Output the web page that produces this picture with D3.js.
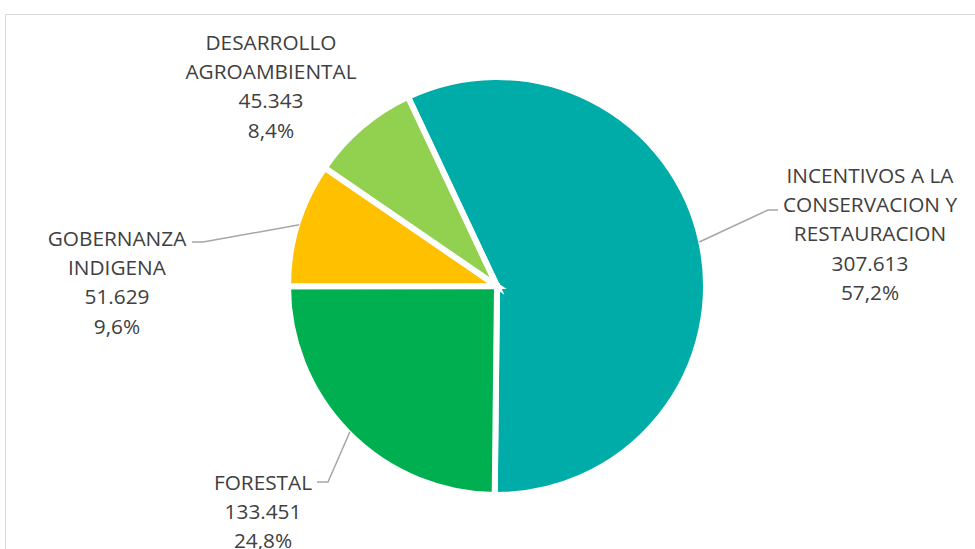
<!DOCTYPE html>
<html>
<head>
<meta charset="utf-8">
<script src="https://cdn.jsdelivr.net/npm/d3@7"></script>
<style>
  html, body { margin: 0; padding: 0; background: #fff; }
  svg { display: block; }
</style>
</head>
<body>
<svg id="chart" width="975" height="549"></svg>
<script>
// ---- data ----
const categories = [
  "INCENTIVOS A LA CONSERVACION Y RESTAURACION",
  "FORESTAL",
  "GOBERNANZA INDIGENA",
  "DESARROLLO AGROAMBIENTAL"
];
const values = [307613, 133451, 51629, 45343];
const labelLines = [
  ["INCENTIVOS A LA", "CONSERVACION Y", "RESTAURACION"],
  ["FORESTAL"],
  ["GOBERNANZA", "INDIGENA"],
  ["DESARROLLO", "AGROAMBIENTAL"]
];

// ---- style / layout ----
const palette = ["#00ACA7", "#00B050", "#FFC000", "#92D050"];
const W = 975, H = 549;
const cx = 497, cy = 286, R = 209;
const startDeg = 334.8;
// label anchors (center x, first line center y) and leader elbows
const labelLayout = [
  { x: 870, y: 175, leader: [[778, 210], [768, 210]] },
  { x: 263, y: 482, leader: [[317, 482], [328, 482]] },
  { x: 117, y: 238, leader: [[192, 242], [203, 242]] },
  { x: 271, y: 42,  leader: null }
];
const lineH = 29.2;
const textColor = "#404040";

const es = d3.formatLocale({ decimal: ",", thousands: ".", grouping: [3], currency: ["", ""] });
const fmtNum = es.format(",d");
const fmtPct = es.format(".1%");

const svg = d3.select("#chart");

// chart frame
svg.append("rect")
  .attr("x", 5.5).attr("y", 14.5)
  .attr("width", 1000).attr("height", 600)
  .attr("fill", "#fff")
  .attr("stroke", "#d9d9d9").attr("stroke-width", 1);

const color = d3.scaleOrdinal().domain(categories).range(palette);
const total = d3.sum(values);
const data = categories.map((c, i) => ({ cat: c, value: values[i], i }));

const pie = d3.pie().value(d => d.value).sort(null)
  .startAngle(startDeg * Math.PI / 180)
  .endAngle(startDeg * Math.PI / 180 + 2 * Math.PI);
const arcs = pie(data);
const arc = d3.arc().innerRadius(0).outerRadius(R);

const g = svg.append("g").attr("transform", `translate(${cx},${cy})`);
g.selectAll("path.slice").data(arcs).join("path")
  .attr("class", "slice")
  .attr("d", arc)
  .attr("fill", d => color(d.data.cat))
  .attr("stroke", "#fff")
  .attr("stroke-width", 6)
  .attr("stroke-linejoin", "miter");

// leader lines
const edgeR = R - 2;
arcs.forEach((a, i) => {
  const L = labelLayout[i];
  if (!L.leader) return;
  const mid = (a.startAngle + a.endAngle) / 2;
  const px = cx + edgeR * Math.sin(mid);
  const py = cy - edgeR * Math.cos(mid);
  const pts = [...L.leader, [px, py]];
  svg.append("path")
    .attr("d", d3.line()(pts))
    .attr("fill", "none")
    .attr("stroke", "#a6a6a6")
    .attr("stroke-width", 1.5);
});

// labels
arcs.forEach((a, i) => {
  const L = labelLayout[i];
  const lines = [...labelLines[i], fmtNum(a.data.value), fmtPct(a.data.value / total)];
  const t = svg.append("text")
    .attr("text-anchor", "middle")
    .attr("font-family", "'Open Sans', 'Noto Sans', sans-serif")
    .attr("font-size", 20.8)
    .attr("fill", textColor);
  lines.forEach((ln, k) => {
    t.append("tspan")
      .attr("x", L.x)
      .attr("y", L.y + k * lineH)
      .attr("dominant-baseline", "central")
      .text(ln);
  });
});
</script>
</body>
</html>
